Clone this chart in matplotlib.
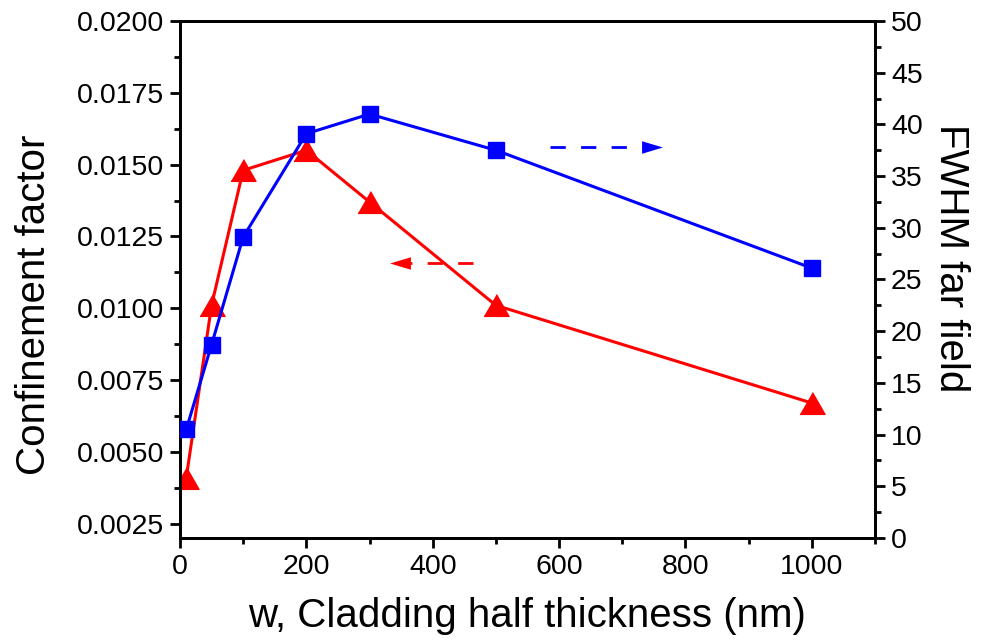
import matplotlib
matplotlib.use("Agg")
import matplotlib.pyplot as plt
from matplotlib.ticker import MultipleLocator, FormatStrFormatter

plt.rcParams['font.family'] = ['Liberation Sans', 'DejaVu Sans']

# data
w_nm = [10, 50, 100, 200, 300, 500, 1000]
confinement = [0.0041, 0.0101, 0.0148, 0.0155, 0.0137, 0.0101, 0.0067]
fwhm = [10.5, 18.7, 29.1, 39.1, 41.0, 37.5, 26.1]

# arrow hints (which axis each curve belongs to)
red_arrow_x = [463, 349]
red_arrow_y = [0.01156, 0.01156]
blue_arrow_x = [585, 747]
blue_arrow_y = [37.8, 37.8]

fig = plt.figure(figsize=(9.84, 6.44), dpi=100)
ax = fig.add_axes([0.1829, 0.1646, 0.7063, 0.8028])
ax2 = ax.twinx()

tri = [(-1, -0.87), (1, -0.87), (0, 0.87)]
ax.plot(w_nm, confinement, color='#ff0000', lw=2.2, marker=tri, ms=18,
        mec='#ff0000', mfc='#ff0000', zorder=3)
ax2.plot(w_nm, fwhm, color='#0000ff', lw=2.2, marker='s', ms=12,
         mec='#0000ff', mfc='#0000ff', zorder=3)

# dashed arrows
head_r = [(-1, 0), (1, -0.6), (1, 0.6)]
head_l = [(1, 0), (-1, -0.6), (-1, 0.6)]
ax.plot(red_arrow_x, red_arrow_y, color='#ff0000', lw=2.0, dashes=(5.5, 5.5))
ax.plot(red_arrow_x[-1:], red_arrow_y[-1:], color='#ff0000', marker=head_r, ms=15,
        mew=0, linestyle='none')
ax2.plot(blue_arrow_x, blue_arrow_y, color='#0000ff', lw=2.0, dashes=(5.5, 5.5))
ax2.plot(blue_arrow_x[-1:], blue_arrow_y[-1:], color='#0000ff', marker=head_l, ms=15,
         mew=0, linestyle='none')

ax.set_xlim(0, 1100)
ax.set_ylim(0.0020, 0.0200)
ax2.set_ylim(0, 50)

ax.xaxis.set_major_locator(MultipleLocator(200))
ax.xaxis.set_minor_locator(MultipleLocator(100))
ax.yaxis.set_major_locator(MultipleLocator(0.0025))
ax.yaxis.set_minor_locator(MultipleLocator(0.00125))
ax.yaxis.set_major_formatter(FormatStrFormatter('%.4f'))
ax2.yaxis.set_major_locator(MultipleLocator(5))
ax2.yaxis.set_minor_locator(MultipleLocator(2.5))

for a in (ax, ax2):
    for s in a.spines.values():
        s.set_linewidth(2)
    a.tick_params(which='major', direction='out', length=7.5, width=2,
                  labelsize=20.5, pad=4)
    a.tick_params(which='minor', direction='out', length=4, width=2)
ax.tick_params(top=False, which='both')
ax2.tick_params(top=False, which='both')

ax.set_xlabel('w, Cladding half thickness (nm)', fontsize=29, labelpad=12)
ax.set_ylabel('Confinement factor', fontsize=29)
ax2.set_ylabel('FWHM far field', fontsize=29, rotation=270, va='bottom')
ax.yaxis.set_label_coords(-0.183, 0.451)
ax2.yaxis.set_label_coords(1.082, 0.542)

fig.savefig('out.png', dpi=100)
